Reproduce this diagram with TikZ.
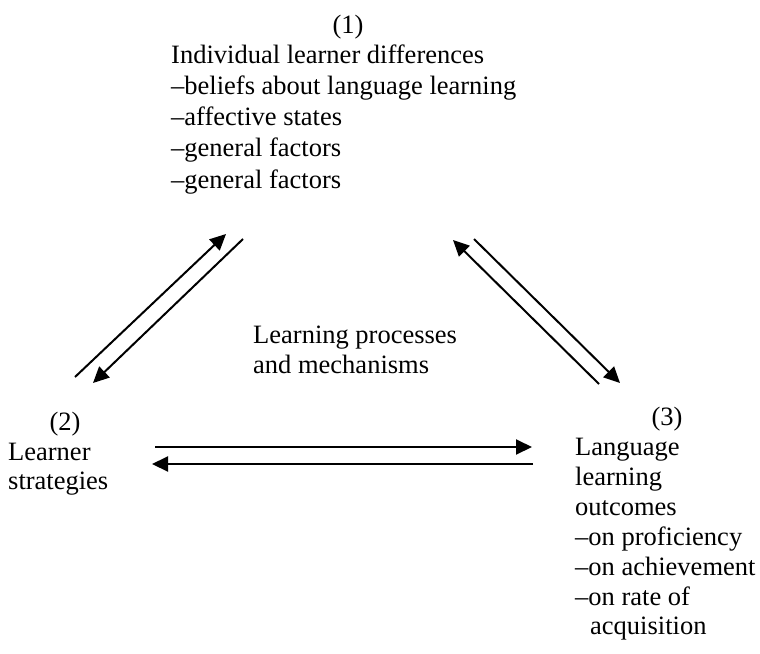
\documentclass[tikz,border=0pt]{standalone}
\usepackage{fontspec}
\setmainfont{Liberation Serif}
\usetikzlibrary{arrows.meta}
\tikzset{
  txt/.style={anchor=base west, inner sep=0pt, font=\fontsize{26.5}{30}\selectfont},
  num/.style={anchor=base, inner sep=0pt, font=\fontsize{26.5}{30}\selectfont},
  conn/.style={line width=2pt, -{Triangle[length=16pt,width=15pt]}}
}
\begin{document}
\begin{tikzpicture}[x=1pt,y=-1pt]
\useasboundingbox (0,0) rectangle (760,653);
% top block
\node[num] (n1) at (348,33) {(1)};
\node[txt] (t1a) at (171,63) {Individual learner differences};
\node[txt] (t1b) at (171,94.25) {–beliefs about language learning};
\node[txt] (t1c) at (171,125.5) {–affective states};
\node[txt] (t1d) at (171,156.75) {–general factors};
\node[txt] (t1e) at (171,188) {–general factors};
% left block
\node[num] (n2) at (65,430) {(2)};
\node[txt] (t2a) at (8,460) {Learner};
\node[txt] (t2b) at (8,489) {strategies};
% middle
\node[txt] (m1) at (253,343) {Learning processes};
\node[txt] (m2) at (253,373) {and mechanisms};
% right block
\node[num] (n3) at (667,425) {(3)};
\node[txt] (t3a) at (575,455) {Language};
\node[txt] (t3b) at (575,485) {learning};
\node[txt] (t3c) at (575,515) {outcomes};
\node[txt] (t3d) at (575,545) {–on proficiency};
\node[txt] (t3e) at (575,575) {–on achievement};
\node[txt] (t3f) at (575,605) {–on rate of};
\node[txt] (t3g) at (590,634) {acquisition};
% connector end points
\coordinate (a1s) at (75,377);
\coordinate (a1e) at (226,234);
\coordinate (a2s) at (243,239);
\coordinate (a2e) at (93,383);
\coordinate (b1s) at (599,384);
\coordinate (b1e) at (453,240);
\coordinate (b2s) at (474,239);
\coordinate (b2e) at (620,383);
\coordinate (c1s) at (155,447);
\coordinate (c1e) at (532,447);
\coordinate (c2s) at (533,464);
\coordinate (c2e) at (152,464);
% connectors
\draw[conn] (a1s) -- (a1e);
\draw[conn] (a2s) -- (a2e);
\draw[conn] (b1s) -- (b1e);
\draw[conn] (b2s) -- (b2e);
\draw[conn] (c1s) -- (c1e);
\draw[conn] (c2s) -- (c2e);
\end{tikzpicture}
\end{document}
